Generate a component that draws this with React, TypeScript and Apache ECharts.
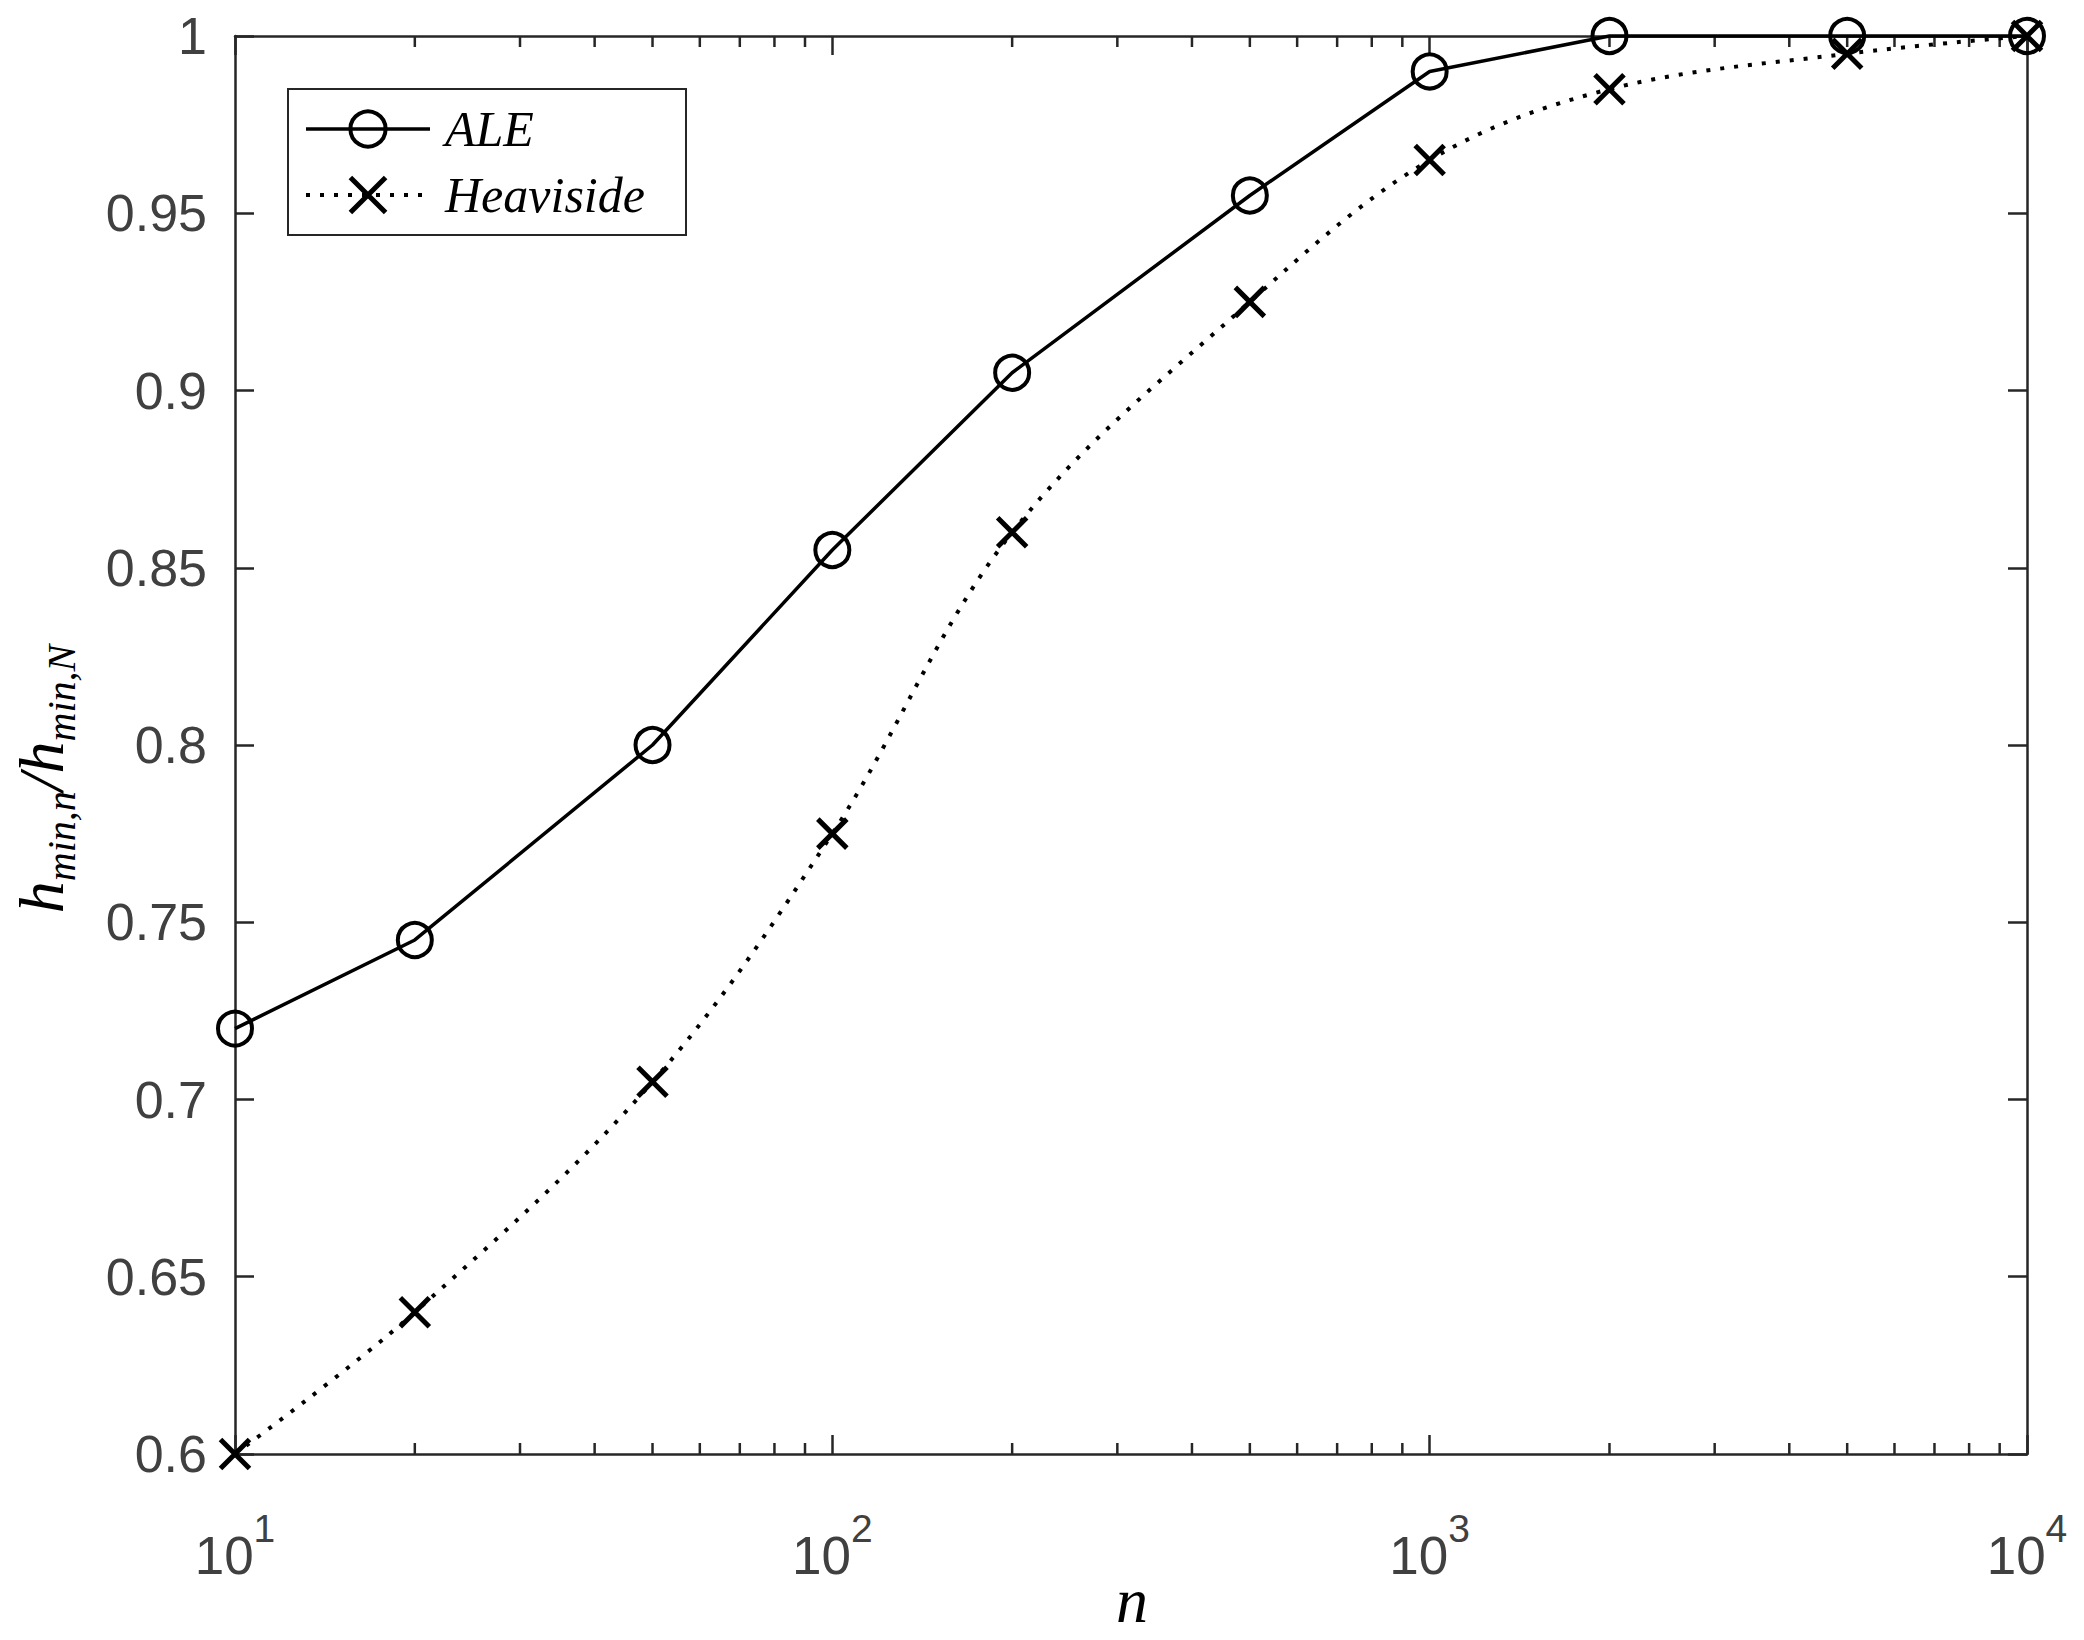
import React, { useEffect, useRef } from "react";
import * as echarts from "echarts";

const nValues = [10, 20, 50, 100, 200, 500, 1000, 2000, 5000, 10000];
const aleValues = [0.72, 0.745, 0.8, 0.855, 0.905, 0.955, 0.99, 1.0, 1.0, 1.0];
const heavisideValues = [0.6, 0.64, 0.705, 0.775, 0.86, 0.925, 0.965, 0.985, 0.995, 1.0];
const xMinorTicks = [
  20, 30, 40, 50, 60, 70, 80, 90,
  200, 300, 400, 500, 600, 700, 800, 900,
  2000, 3000, 4000, 5000, 6000, 7000, 8000, 9000,
];
const seriesNames = ["ALE", "Heaviside"];

const AXIS = "#262626";
const LABEL = "#404040";
const SANS = "'Liberation Sans', Arial, Helvetica, sans-serif";
const SERIF = "'Liberation Serif', 'Times New Roman', serif";
const CROSS = "path://M0 0L10 10M10 0L0 10";

const ALE_LINE = { color: "#000000", width: 3.5, type: "solid" as const };
const ALE_ITEM = { color: "rgba(0,0,0,0)", borderColor: "#000000", borderWidth: 4 };
const HEA_LINE = { color: "#000000", width: 4, type: [4, 10] };
const HEA_ITEM = { color: "rgba(0,0,0,0)", borderColor: "#000000", borderWidth: 5 };

export default function App() {
  const ref = useRef<HTMLDivElement>(null);
  useEffect(() => {
    if (!ref.current) return;
    const chart = echarts.init(ref.current, null, { renderer: "svg" });
    const xMin = nValues[0];
    const xMax = nValues[nValues.length - 1];
    const yMin = 0.6;
    const yMax = 1;
    const baseX = {
      type: "log",
      logBase: 10,
      min: xMin,
      max: xMax,
      splitLine: { show: false },
      axisLine: { show: true, onZero: false, lineStyle: { color: AXIS, width: 2.5 } },
      axisTick: { show: true, inside: true, length: 19, lineStyle: { color: AXIS, width: 2.5 } },
      minorTick: { show: false },
    };
    const baseY = {
      type: "value",
      min: yMin,
      max: yMax,
      interval: 0.05,
      splitLine: { show: false },
      axisLine: { show: true, onZero: false, lineStyle: { color: AXIS, width: 2.5 } },
      axisTick: { show: true, inside: true, length: 19, lineStyle: { color: AXIS, width: 2.5 } },
    };
    const option = {
      animation: false,
      backgroundColor: "#ffffff",
      grid: {
        left: 235,
        right: 57,
        top: 36,
        bottom: 186,
        containLabel: false,
        outerBoundsMode: "none",
      },
      xAxis: [
        {
          ...baseX,
          position: "bottom",
          axisLabel: {
            show: true,
            margin: 66,
            formatter: (v: number) => `{b|10}{s|${Math.round(Math.log10(v))}}`,
            rich: {
              b: {
                fontFamily: SANS,
                fontSize: 53,
                lineHeight: 53,
                color: LABEL,
                padding: [18, 0, 0, 0],
              },
              s: {
                fontFamily: SANS,
                fontSize: 39,
                lineHeight: 39,
                color: LABEL,
                padding: [0, 0, 36, 0],
              },
            },
          },
        },
        {
          ...baseX,
          position: "top",
          axisLabel: { show: false },
        },
      ],
      yAxis: [
        {
          ...baseY,
          position: "left",
          axisLabel: {
            show: true,
            margin: 28,
            fontFamily: SANS,
            fontSize: 52,
            color: LABEL,
            formatter: (v: number) => String(parseFloat(v.toFixed(2))),
          },
        },
        {
          ...baseY,
          position: "right",
          axisLabel: { show: false },
        },
      ],
      legend: {
        data: [
          { name: seriesNames[0], itemStyle: ALE_ITEM, lineStyle: ALE_LINE },
          { name: seriesNames[1], itemStyle: HEA_ITEM, lineStyle: HEA_LINE },
        ],
        orient: "vertical",
        left: 288,
        top: 89,
        padding: [15, 16, 15, 16],
        itemGap: 16,
        itemWidth: 124,
        itemHeight: 44,
        borderColor: AXIS,
        borderWidth: 2,
        backgroundColor: "#ffffff",
        selectedMode: false,
        textStyle: {
          fontFamily: SERIF,
          fontStyle: "italic",
          fontSize: 50,
          lineHeight: 48,
          color: "#000000",
          width: 225,
          padding: [0, 0, 0, 10],
        },
      },
      graphic: [
        {
          type: "text",
          x: 1132,
          y: 1600,
          style: {
            text: "n",
            fontFamily: SERIF,
            fontStyle: "italic",
            fontSize: 64,
            fill: "#000000",
            textAlign: "center",
            textVerticalAlign: "middle",
          },
        },
        {
          type: "text",
          x: 41,
          y: 779,
          rotation: Math.PI / 2,
          style: {
            text: "{i|h}{s|min,n}{i|/h}{s|min,N}",
            textAlign: "center",
            textVerticalAlign: "middle",
            rich: {
              i: {
                fontFamily: SERIF,
                fontStyle: "italic",
                fontSize: 64,
                lineHeight: 64,
                fill: "#000000",
              },
              s: {
                fontFamily: SERIF,
                fontStyle: "italic",
                fontSize: 40,
                lineHeight: 40,
                fill: "#000000",
                padding: [40, 0, 0, 0],
              },
            },
          },
        },
      ],
      series: [
        {
          name: "minorTicks",
          type: "custom",
          silent: true,
          clip: false,
          z: 1,
          xAxisIndex: 0,
          yAxisIndex: 0,
          data: xMinorTicks.map((v) => [v]),
          renderItem: (params: any, api: any) => {
            const b = api.coord([api.value(0), yMin]);
            const t = api.coord([api.value(0), yMax]);
            const style = { stroke: AXIS, lineWidth: 2.5 };
            return {
              type: "group",
              children: [
                { type: "line", shape: { x1: b[0], y1: b[1], x2: b[0], y2: b[1] - 11 }, style },
                { type: "line", shape: { x1: t[0], y1: t[1], x2: t[0], y2: t[1] + 11 }, style },
              ],
            };
          },
        },
        {
          name: seriesNames[0],
          type: "line",
          clip: false,
          z: 3,
          data: nValues.map((n, i) => [n, aleValues[i]]),
          symbol: "circle",
          symbolSize: 34,
          lineStyle: ALE_LINE,
          itemStyle: ALE_ITEM,
          emphasis: { disabled: true },
        },
        {
          name: seriesNames[1],
          type: "line",
          clip: false,
          z: 3,
          smooth: 0.35,
          data: nValues.map((n, i) => [n, heavisideValues[i]]),
          symbol: CROSS,
          symbolSize: 29,
          lineStyle: HEA_LINE,
          itemStyle: HEA_ITEM,
          emphasis: { disabled: true },
        },
      ],
    };
    chart.setOption(option as any);
    return () => chart.dispose();
  }, []);
  return (
    <div
      ref={ref}
      style={{ position: "fixed", left: 0, top: 0, width: 2084, height: 1640 }}
    />
  );
}
